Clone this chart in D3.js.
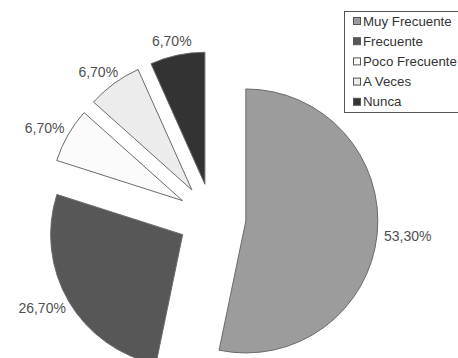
<!DOCTYPE html>
<html>
<head>
<meta charset="utf-8">
<script src="https://cdn.jsdelivr.net/npm/d3@7"></script>
<style>
  html, body { margin: 0; padding: 0; background: #fff; }
  svg { display: block; }
</style>
</head>
<body>
<svg id="chart" width="458" height="358"></svg>
<script>
// Frequency categories and their share of responses (%)
const categories = ["Muy Frecuente", "Frecuente", "Poco Frecuente", "A Veces", "Nunca"];
const values = [53.3, 26.7, 6.7, 6.7, 6.7];
const fills = ["#9c9c9c", "#575757", "#fbfbfb", "#ececec", "#333333"];

const width = 458, height = 358;
const cx = 212, cy = 217.5;      // pie centre
const radius = 132;
const explode = 34;              // every slice is pulled out from the centre
const labelGap = 7;

const svg = d3.select("#chart");

// Spanish style number: decimal comma
const esLocale = d3.formatLocale({ decimal: ",", thousands: ".", grouping: [3], currency: ["", " €"] });
const fmt = v => esLocale.format(".2f")(v) + "%";

const pie = d3.pie().sort(null).value(d => d.value).startAngle(0).endAngle(2 * Math.PI);
const arc = d3.arc().innerRadius(0).outerRadius(radius);

const data = categories.map((c, i) => ({ name: c, value: values[i], fill: fills[i] }));
const arcs = pie(data);

const g = svg.append("g").attr("transform", `translate(${cx},${cy})`);

// slices, each moved outwards along its bisector
g.selectAll("path.slice")
  .data(arcs)
  .join("path")
  .attr("class", "slice")
  .attr("d", arc)
  .attr("transform", d => {
    const a = (d.startAngle + d.endAngle) / 2;
    return `translate(${explode * Math.sin(a)},${-explode * Math.cos(a)})`;
  })
  .attr("fill", d => d.data.fill)
  .attr("stroke", "#6a6a6a")
  .attr("stroke-width", 1)
  .attr("stroke-linejoin", "miter");

// percentage labels just outside each exploded slice
const labelFont = 14;
const labels = g.selectAll("text.pct")
  .data(arcs)
  .join("text")
  .attr("class", "pct")
  .attr("font-family", "Liberation Sans, Arial, sans-serif")
  .attr("font-size", labelFont)
  .attr("fill", "#505050")
  .attr("text-anchor", "middle")
  .attr("dominant-baseline", "central")
  .text(d => fmt(d.data.value));

labels.each(function(d) {
  const a = (d.startAngle + d.endAngle) / 2;
  const dx = Math.sin(a), dy = -Math.cos(a);
  const rr = radius + explode + labelGap;
  const w = this.getComputedTextLength();
  const h = labelFont;
  const x = rr * dx + dx * w / 2;
  const y = rr * dy + dy * h / 2;
  d3.select(this).attr("x", x).attr("y", y);
});

// legend
const legend = svg.append("g").attr("transform", "translate(344,11)");
legend.append("rect")
  .attr("x", 0.5).attr("y", 0.5)
  .attr("width", 130).attr("height", 101)
  .attr("fill", "#fff")
  .attr("stroke", "#555")
  .attr("stroke-width", 1);

const rowStep = 20.2;
const item = legend.selectAll("g.item")
  .data(data)
  .join("g")
  .attr("class", "item")
  .attr("transform", (d, i) => `translate(0,${10 + i * rowStep})`);

item.append("rect")
  .attr("x", 9.5).attr("y", -3.5)
  .attr("width", 7).attr("height", 7)
  .attr("fill", d => d.fill)
  .attr("stroke", "#555")
  .attr("stroke-width", 1);

item.append("text")
  .attr("x", 19)
  .attr("y", 0)
  .attr("dominant-baseline", "central")
  .attr("font-family", "Liberation Sans, Arial, sans-serif")
  .attr("font-size", 13.3)
  .attr("fill", "#333")
  .text(d => d.name);
</script>
</body>
</html>
